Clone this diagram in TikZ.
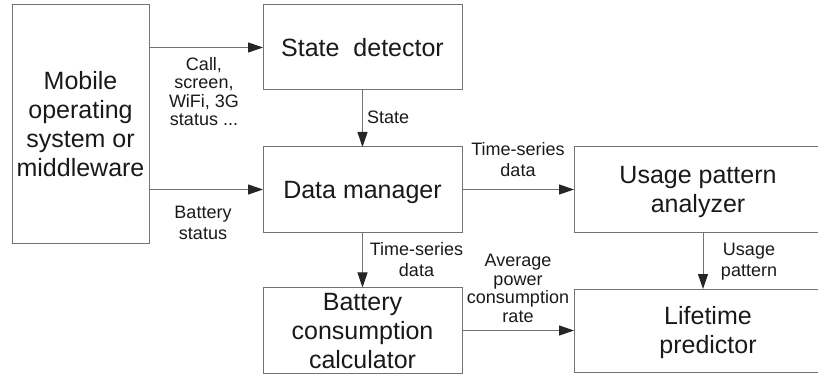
\documentclass[tikz,border=0pt]{standalone}
\usepackage{fontspec}
\setmainfont{Liberation Sans}
\usetikzlibrary{arrows.meta}
\newcommand\bT{\rule{0pt}{23pt}}
\newcommand\bB{\rule[-5.1pt]{0pt}{5.1pt}}
\newcommand\lT{\rule{0pt}{16.9pt}}
\newcommand\lB{\rule[-4pt]{0pt}{4pt}}
\begin{document}
\begin{tikzpicture}[x=1pt,y=-1pt,
  blockbox/.style={draw=black!55, line width=1pt, rectangle, inner sep=0pt, outer sep=0pt,
    align=center, font=\fontsize{25}{29}\selectfont, text=black!90},
  flow/.style={draw=black!55, line width=1pt, -{Triangle[length=15pt,width=10pt,color=black!85]}},
  lbl/.style={inner sep=0pt, align=center, font=\fontsize{18}{21}\selectfont, text=black!90},
  lblfour/.style={lbl, font=\fontsize{18}{18.6}\selectfont},
]
\useasboundingbox (0,0) rectangle (818,374);
\clip (0,0) rectangle (818,374);

% blocks
\node[blockbox, minimum width=137pt, minimum height=238pt] (mos) at (80.5,124)
  {\bT Mobile\\operating\\system or\\middleware\bB};
\node[blockbox, minimum width=199pt, minimum height=85pt] (sd) at (362.5,47.5)
  {\bT State\ \ detector\bB};
\node[blockbox, minimum width=199pt, minimum height=85pt] (dm) at (362.5,189.5)
  {\bT Data manager\bB};
\node[blockbox, minimum width=248pt, minimum height=85pt] (upa) at (698,189.5)
  {\bT Usage pattern\\analyzer\bB};
\node[blockbox, minimum width=199pt, minimum height=83pt] (bcc) at (362.5,330.5)
  {\bT Battery\\consumption\\calculator\bB};
\node[blockbox, minimum width=268pt, minimum height=83pt] (lp) at (708,330.5)
  {\bT Lifetime\\predictor\bB};

% connectors
\draw[flow] (mos.east |- sd.west) -- (sd.west);
\draw[flow] (mos.east |- dm.west) -- (dm.west);
\draw[flow] (sd.south) -- (dm.north);
\draw[flow] (dm.east) -- (upa.west);
\draw[flow] (dm.south) -- (bcc.north);
\draw[flow] (bcc.east) -- (lp.west);
\draw[flow] ([xshift=5pt]upa.south) -- ([xshift=5pt]upa.south |- lp.north);

% labels
\node[lblfour] (l1) at (204,91.6) {\lT Call,\\screen,\\WiFi, 3G\\status ...\lB};
\node[lbl] (l2) at (203,222.6) {\lT Battery\\status\lB};
\node[lbl, anchor=west] (l3) at (367,117.5) {\lT State\lB};
\node[lbl] (l4) at (518,159.9) {\lT Time-series\\data\lB};
\node[lbl] (l5) at (416.5,259.9) {\lT Time-series\\data\lB};
\node[lblfour] (l6) at (518,287.9) {\lT Average\\power\\consumption\\rate\lB};
\node[lbl] (l7) at (749,259.7) {\lT Usage\\pattern\lB};
\end{tikzpicture}
\end{document}
